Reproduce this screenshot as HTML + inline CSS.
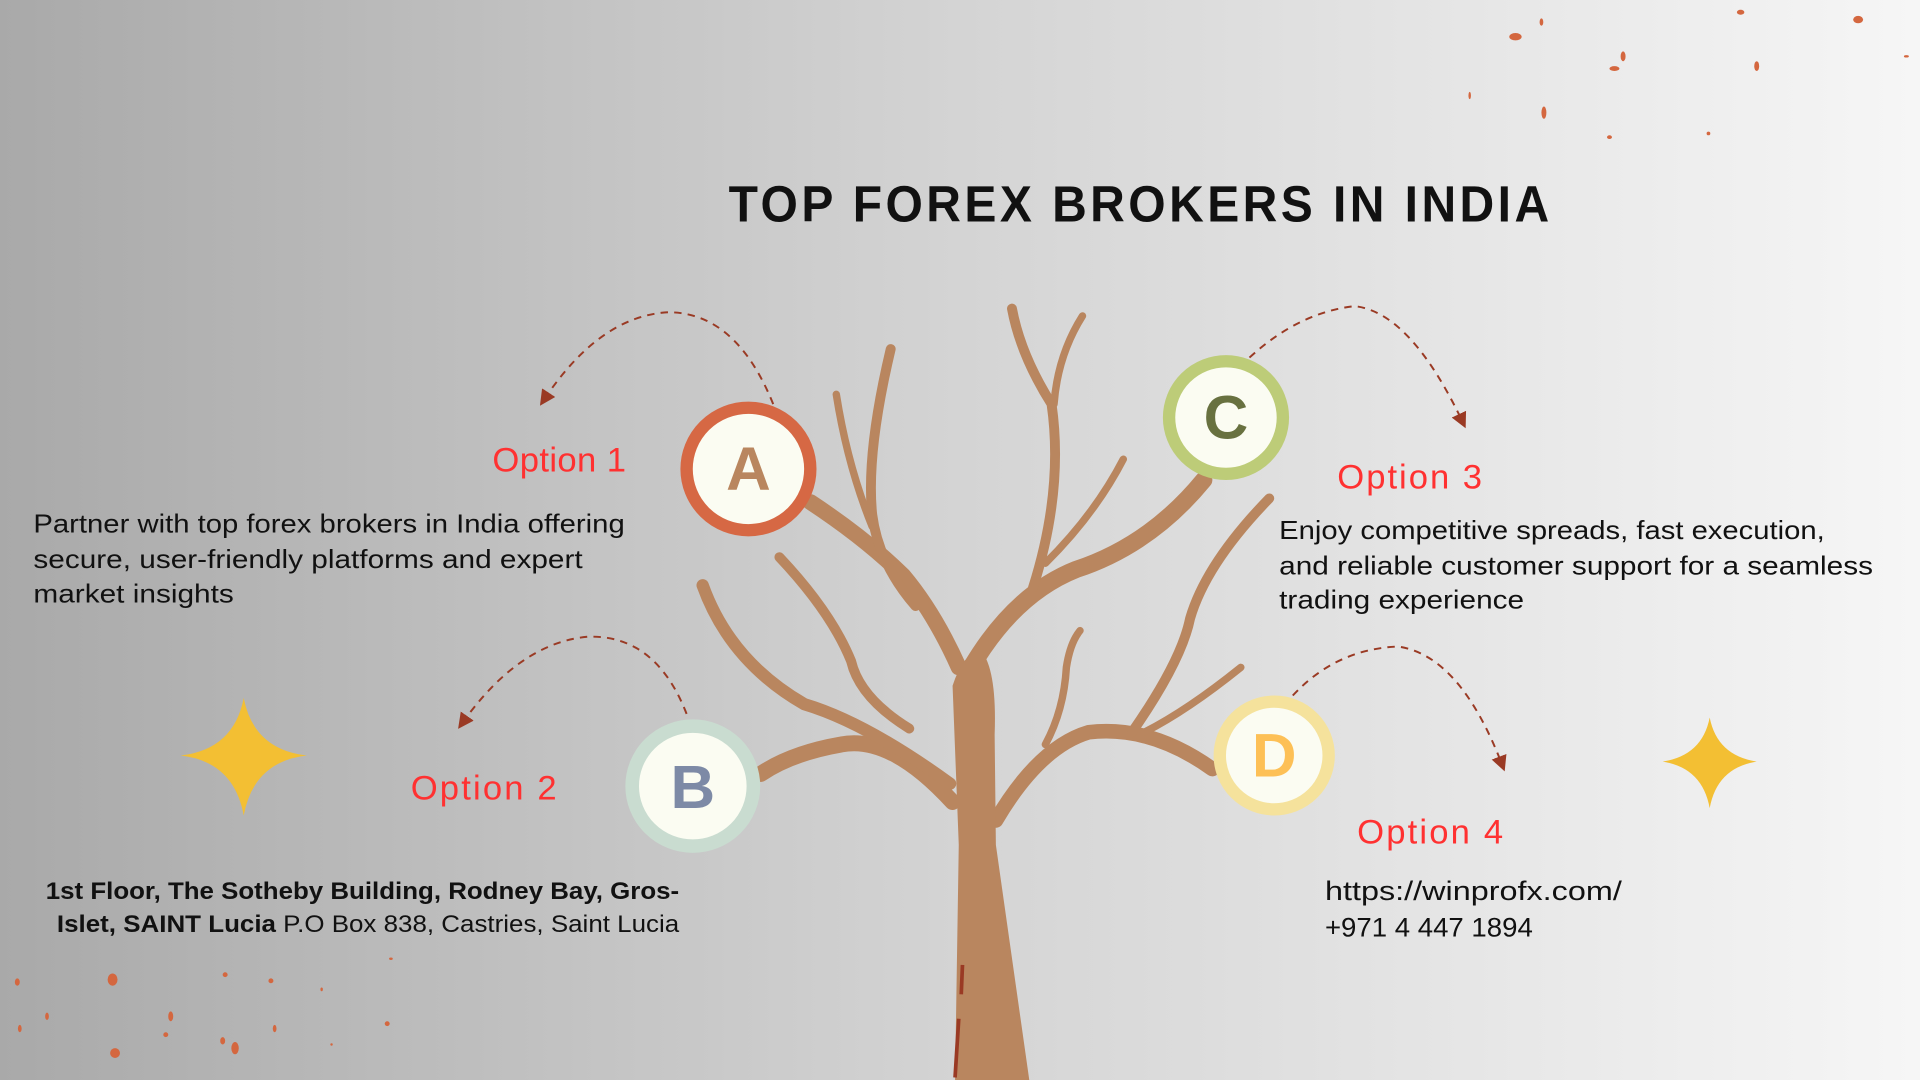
<!DOCTYPE html>
<html><head><meta charset="utf-8"><style>
html,body{margin:0;padding:0;width:1920px;height:1080px;overflow:hidden}
svg{display:block}
</style></head><body>
<svg width="1920" height="1080" viewBox="0 0 1552 882" preserveAspectRatio="none" xmlns="http://www.w3.org/2000/svg">
<defs>
<linearGradient id="bg" x1="0" y1="0" x2="1" y2="0">
<stop offset="0" stop-color="#a9a9a9"/><stop offset="0.5" stop-color="#d4d4d4"/><stop offset="1" stop-color="#f6f6f6"/>
</linearGradient>
<marker id="ah" markerWidth="8" markerHeight="8" refX="4" refY="4" orient="auto"><path d="M0,0 L8,4 L0,8 Z" fill="#9a3a24"/></marker>
</defs>
<rect width="1552" height="882" fill="url(#bg)"/>

<g fill="#d4673f">
<ellipse cx="1225" cy="30" rx="5" ry="3"/><ellipse cx="1246" cy="18" rx="1.5" ry="3"/><ellipse cx="1312" cy="46" rx="2" ry="4"/><ellipse cx="1305" cy="56" rx="4" ry="2"/>
<ellipse cx="1407" cy="10" rx="3" ry="2"/><ellipse cx="1420" cy="54" rx="2" ry="4"/><ellipse cx="1502" cy="16" rx="4" ry="3"/><ellipse cx="1248" cy="92" rx="2" ry="5"/>
<ellipse cx="1301" cy="112" rx="2" ry="1.5"/><ellipse cx="1381" cy="109" rx="1.5" ry="1.5"/><ellipse cx="1541" cy="46" rx="2" ry="1"/><ellipse cx="1188" cy="78" rx="1" ry="3"/>
<ellipse cx="14" cy="802" rx="2" ry="3"/><ellipse cx="91" cy="800" rx="4" ry="5"/><ellipse cx="93" cy="860" rx="4" ry="4"/><ellipse cx="38" cy="830" rx="1.5" ry="3"/>
<ellipse cx="138" cy="830" rx="2" ry="4"/><ellipse cx="182" cy="796" rx="2" ry="2"/><ellipse cx="190" cy="856" rx="3" ry="5"/><ellipse cx="219" cy="801" rx="2" ry="2"/>
<ellipse cx="222" cy="840" rx="1.5" ry="3"/><ellipse cx="134" cy="845" rx="2" ry="2"/><ellipse cx="260" cy="808" rx="1" ry="1.5"/><ellipse cx="313" cy="836" rx="2" ry="2"/>
<ellipse cx="268" cy="853" rx="1" ry="1"/><ellipse cx="316" cy="783" rx="1.5" ry="1"/><ellipse cx="16" cy="840" rx="1.5" ry="3"/><ellipse cx="180" cy="850" rx="2" ry="3"/>
</g>

<path d="M197,570 Q205,612 248,617 Q205,622 197,666 Q189,622 146,617 Q189,612 197,570 Z" fill="#f3bf33"/>
<path d="M1382,586 Q1388,617 1420,622 Q1388,627 1382,660 Q1376,627 1344,622 Q1376,617 1382,586 Z" fill="#f3bf33"/>

<g fill="none" stroke="#b9865f" stroke-linecap="round" stroke-linejoin="round">
<path d="M770,655 Q720,600 680,608 Q640,615 615,632" stroke-width="13"/>
<path d="M768,640 Q700,590 650,575 Q590,540 568,478" stroke-width="10"/>
<path d="M735,595 Q695,570 688,540 Q672,500 630,455" stroke-width="8"/>
<path d="M775,545 Q755,500 730,470 Q700,440 655,410" stroke-width="13"/>
<path d="M740,495 Q710,460 705,420 Q700,370 720,285" stroke-width="8"/>
<path d="M705,430 Q685,380 676,322" stroke-width="6"/>
<path d="M785,545 Q820,485 870,465 Q930,445 973,392" stroke-width="14"/>
<path d="M835,480 Q860,400 850,330 Q825,290 818,252" stroke-width="8"/>
<path d="M852,330 Q855,290 875,258" stroke-width="6"/>
<path d="M845,460 Q885,420 908,375" stroke-width="6"/>
<path d="M805,670 Q840,610 880,598 Q930,592 980,628" stroke-width="12"/>
<path d="M925,598 Q960,580 1003,545" stroke-width="6"/>
<path d="M915,598 Q955,540 962,505 Q975,460 1026,407" stroke-width="8"/>
<path d="M845,608 Q860,580 862,545 Q865,525 873,515" stroke-width="6"/>
</g>
<path d="M772,882 L775,690 L770,560 Q778,535 792,530 Q806,545 804,600 L805,690 L832,882 Z" fill="#b9865f"/>
<path d="M778,788 L777,812 M775,832 L772,880" stroke="#9a3a24" stroke-width="3" fill="none"/>

<g fill="none" stroke="#9a3a24" stroke-width="1.6" stroke-dasharray="6,5">
<path d="M625,330 Q595,255 540,255 Q485,258 440,326" marker-end="url(#ah)"/>
<path d="M555,583 Q530,518 475,520 Q420,525 374,590" marker-end="url(#ah)"/>
<path d="M1010,292 Q1050,255 1095,250 Q1140,255 1182,344" marker-end="url(#ah)"/>
<path d="M1045,568 Q1080,530 1130,528 Q1180,535 1214,624" marker-end="url(#ah)"/>
</g>

<circle cx="605" cy="383" r="50" fill="#fbfcf2" stroke="#d66844" stroke-width="10"/>
<circle cx="560" cy="642" r="49" fill="#fbfcf2" stroke="#c9dcd0" stroke-width="11"/>
<circle cx="991" cy="341" r="46" fill="#fbfcf2" stroke="#bdcc78" stroke-width="10"/>
<circle cx="1030" cy="617" r="44" fill="#fbfcf2" stroke="#f5e29c" stroke-width="10"/>
<g font-family="Liberation Sans, sans-serif" font-weight="bold" text-anchor="middle">
<text x="605" y="400" font-size="50" fill="#b9865f">A</text>
<text x="560" y="660" font-size="50" fill="#7d8aa6">B</text>
<text x="991" y="358" font-size="50" fill="#687140">C</text>
<text x="1030" y="634" font-size="50" fill="#fdc056">D</text>
</g>

<text x="922" y="181" text-anchor="middle" font-family="Liberation Sans, sans-serif" font-weight="bold" font-size="42" letter-spacing="3" fill="#111" textLength="666" lengthAdjust="spacingAndGlyphs">TOP FOREX BROKERS IN INDIA</text>

<g font-family="Liberation Sans, sans-serif" font-size="28" fill="#ff3131">
<text x="398" y="385" textLength="108">Option 1</text>
<text x="332" y="653" textLength="118">Option 2</text>
<text x="1081" y="399" textLength="117">Option 3</text>
<text x="1097" y="689" textLength="118">Option 4</text>
</g>

<g font-family="Liberation Sans, sans-serif" font-size="21" fill="#111" lengthAdjust="spacingAndGlyphs">
<text x="27" y="435" textLength="478" lengthAdjust="spacingAndGlyphs">Partner with top forex brokers in India offering</text>
<text x="27" y="464" textLength="444" lengthAdjust="spacingAndGlyphs">secure, user-friendly platforms and expert</text>
<text x="27" y="492" textLength="162" lengthAdjust="spacingAndGlyphs">market insights</text>
<text x="1034" y="440" textLength="441" lengthAdjust="spacingAndGlyphs">Enjoy competitive spreads, fast execution,</text>
<text x="1034" y="469" textLength="480" lengthAdjust="spacingAndGlyphs">and reliable customer support for a seamless</text>
<text x="1034" y="497" textLength="198" lengthAdjust="spacingAndGlyphs">trading experience</text>
<text x="1071" y="735" font-size="22" textLength="240" lengthAdjust="spacingAndGlyphs">https://winprofx.com/</text>
<text x="1071" y="765" font-size="22" textLength="168" lengthAdjust="spacingAndGlyphs">+971 4 447 1894</text>
</g>
<g font-family="Liberation Sans, sans-serif" font-size="19.5" fill="#111">
<text x="37" y="734" font-weight="bold" textLength="512" lengthAdjust="spacingAndGlyphs">1st Floor, The Sotheby Building, Rodney Bay, Gros-</text>
<text x="46" y="761" textLength="503" lengthAdjust="spacingAndGlyphs"><tspan font-weight="bold">Islet, SAINT Lucia</tspan> P.O Box 838, Castries, Saint Lucia</text>
</g>
</svg>
</body></html>
